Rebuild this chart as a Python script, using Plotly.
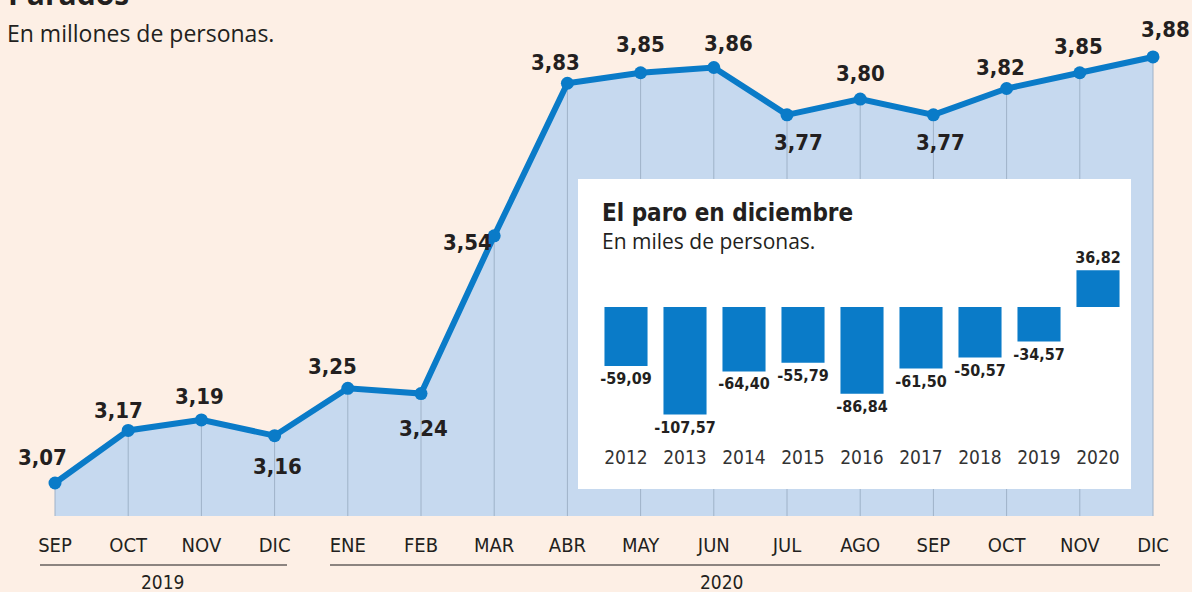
import plotly.graph_objects as go

# ---------------- data ----------------
months = ["SEP", "OCT", "NOV", "DIC", "ENE", "FEB", "MAR", "ABR",
          "MAY", "JUN", "JUL", "AGO", "SEP", "OCT", "NOV", "DIC"]
parados = [3.07, 3.17, 3.19, 3.16, 3.25, 3.24, 3.54, 3.83,
           3.85, 3.86, 3.77, 3.80, 3.77, 3.82, 3.85, 3.88]
years_inset = ["2012", "2013", "2014", "2015", "2016", "2017", "2018", "2019", "2020"]
paro_dic = [-59.09, -107.57, -64.40, -55.79, -86.84, -61.50, -50.57, -34.57, 36.82]

# label offsets (pixels) for the main series labels
lab_dx = [-13, -10, -2, 3, -15, 2, -27, -12, 0, 15, 11, 0, 7, -6, -1, 12]
lab_dy = [26, 20, 23, -31, 22, -35, -7, 21, 28, 24, -28, 26, -28, 21, 26, 27]

# ---------------- styles ----------------
W, H = 1192, 592
BG = "#fdefe5"
BLUE = "#0a7bc8"
FILL = "#c6d9ef"
GRID = "#9fb2c8"
TXT = "#231f20"
COND = "Liberation Sans Narrow, DejaVu Sans Condensed, Arial Narrow, sans-serif"
SANS = "Open Sans, Lato, sans-serif"

PLOT_H = 516  # plot area height in px (margin bottom 76)
PX_PER_UNIT = 526
Y_BASE = 3.0073
def py(p):  # pixel y -> paper y
    return (PLOT_H - p) / PLOT_H
def px(p):
    return p / W

xs = list(range(len(months)))
step = 73.2
x0 = 55
xr = [-x0 / step, (W - x0) / step]

fig = go.Figure()

# area
fig.add_trace(go.Scatter(x=xs, y=parados, mode="none", fill="tozeroy",
                         fillcolor=FILL, hoverinfo="skip", showlegend=False))
# vertical drop lines
gx, gy = [], []
for i, v in zip(xs, parados):
    gx += [i, i, None]
    gy += [Y_BASE, v, None]
fig.add_trace(go.Scatter(x=gx, y=gy, mode="lines", line=dict(color=GRID, width=1),
                         hoverinfo="skip", showlegend=False))
# line
fig.add_trace(go.Scatter(x=xs, y=parados, mode="lines+markers",
                         line=dict(color=BLUE, width=6),
                         marker=dict(color=BLUE, size=13),
                         showlegend=False, cliponaxis=False))

for i, v in enumerate(parados):
    fig.add_annotation(x=i, y=v, text="<b>" + f"{v:.2f}".replace(".", ",") + "</b>",
                       showarrow=False, xshift=lab_dx[i], yshift=lab_dy[i],
                       font=dict(family=COND, size=22, color=TXT),
                       xanchor="center", yanchor="middle")

# ---------------- inset ----------------
box_l, box_r, box_t, box_b = 578, 1131, 179, 489
bar0, bstep, zero_py = 626, 59, 307
x2r = [(box_l - bar0) / bstep, (box_r - bar0) / bstep]
y2r = [-(box_b - zero_py), zero_py - box_t]

fig.add_shape(type="rect", xref="x2", yref="y2", x0=x2r[0], x1=x2r[1],
              y0=y2r[0], y1=y2r[1], fillcolor="white", line=dict(width=0), layer="below")

fig.add_trace(go.Bar(x=list(range(len(years_inset))), y=paro_dic, xaxis="x2", yaxis="y2",
                     marker=dict(color=BLUE, line=dict(width=0)), width=0.73,
                     text=["<b>" + f"{v:.2f}".replace(".", ",") + "</b>" for v in paro_dic],
                     textposition="outside", cliponaxis=False, constraintext="none",
                     textfont=dict(family=COND, size=16, color=TXT),
                     showlegend=False, hoverinfo="skip"))

fig.add_annotation(xref="paper", yref="paper", x=px(600), y=py(213), text="<b>El paro en diciembre</b>",
                   showarrow=False, xanchor="left", yanchor="middle",
                   font=dict(family=COND, size=24, color=TXT))
fig.add_annotation(xref="paper", yref="paper", x=px(600), y=py(241), text="En miles de personas.",
                   showarrow=False, xanchor="left", yanchor="middle",
                   font=dict(family=SANS, size=21, color=TXT))

# ---------------- titles ----------------
fig.add_annotation(xref="paper", yref="paper", x=px(6), y=py(-6), text="<b>Parados</b>",
                   showarrow=False, xanchor="left", yanchor="middle",
                   font=dict(family=SANS, size=30, color=TXT))
fig.add_annotation(xref="paper", yref="paper", x=px(5), y=py(33), text="En millones de personas.",
                   showarrow=False, xanchor="left", yanchor="middle",
                   font=dict(family=SANS, size=23, color=TXT))

# year groups
LINEC = "#8c8480"
fig.add_shape(type="line", xref="paper", yref="paper", x0=px(40), x1=px(287),
              y0=py(565), y1=py(565), line=dict(color=LINEC, width=2))
fig.add_shape(type="line", xref="paper", yref="paper", x0=px(330), x1=px(1160),
              y0=py(565), y1=py(565), line=dict(color=LINEC, width=2))
fig.add_annotation(xref="paper", yref="paper", x=px(163), y=py(582), text="2019",
                   showarrow=False, xanchor="center", yanchor="middle",
                   font=dict(family=COND, size=19, color=TXT))
fig.add_annotation(xref="paper", yref="paper", x=px(722), y=py(582), text="2020",
                   showarrow=False, xanchor="center", yanchor="middle",
                   font=dict(family=COND, size=19, color=TXT))

fig.update_layout(
    width=W, height=H,
    margin=dict(l=0, r=0, t=0, b=H - PLOT_H),
    paper_bgcolor=BG, plot_bgcolor=BG,
    xaxis=dict(range=xr, tickvals=xs, ticktext=months, showgrid=False, zeroline=False,
               showline=False, ticks="", ticklabelstandoff=15,
               tickfont=dict(family=COND, size=20, color=TXT), fixedrange=True),
    yaxis=dict(range=[Y_BASE, Y_BASE + PLOT_H / PX_PER_UNIT], visible=False, fixedrange=True),
    xaxis2=dict(domain=[px(box_l), px(box_r)], anchor="y2", range=x2r,
                tickvals=list(range(len(years_inset))), ticktext=years_inset,
                showgrid=False, zeroline=False, showline=False, ticks="",
                ticklabelposition="inside", ticklabelstandoff=18,
                tickfont=dict(family=COND, size=19, color="#333333")),
    yaxis2=dict(domain=[py(box_b), py(box_t)], anchor="x2", range=y2r,
                visible=False),
    showlegend=False,
)

fig.write_html("out.html", config={"displayModeBar": False},
               post_script="document.body.style.margin='0';document.body.style.overflow='hidden';")
